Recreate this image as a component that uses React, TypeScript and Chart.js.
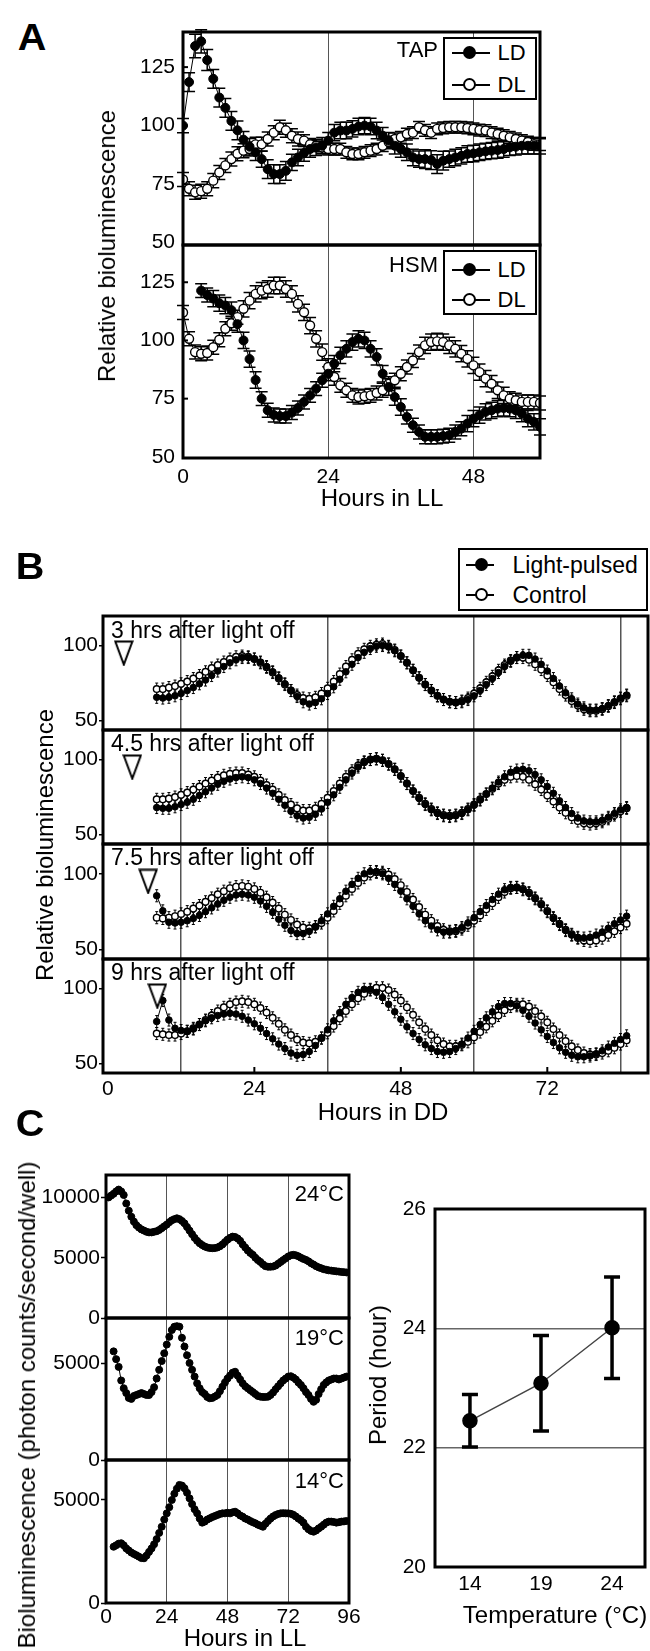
import React, { useEffect, useRef } from "react";
import { Chart, registerables } from "chart.js";

Chart.register(...registerables);

const FONT = "'Liberation Sans', Arial, Helvetica, sans-serif";
const TICK_PX = 21;

/* ================= Panel A : relative bioluminescence, hours in LL ================= */
const A_X_TICKS = [0, 24, 48];
const A_X_GRID = [24, 48];
const A_Y_TICKS = [50, 75, 100, 125];
const A_Y_INNER = [75, 100, 125];

const TAP_LD_START = 0;
const TAP_LD = [
  100, 118.6, 134, 136, 128, 120, 112, 107.6, 102, 98,
  94, 91, 88.6, 85.7, 81.4, 79.3, 79.3, 80.7, 84.3, 86.4,
  88.3, 90, 90.7, 91.4, 93.6, 97, 97.9, 97.9, 98.6, 99.6,
  100, 99.6, 97.9, 95.7, 93.6, 91.4, 90, 88.6, 86.4, 85.7,
  85.7, 85.3, 83.6, 85, 85.7, 86.4, 87.1, 87.9, 88.1, 88.6,
  89, 89.3, 89.6, 90, 90.7, 91, 91.4, 91.4, 91.4, 91.4,
];
const TAP_LD_ERR = [
  3, 4, 5, 5, 4.5, 4, 4, 4, 4, 4,
  3.5, 3.5, 3.5, 3.5, 4, 4, 4, 4, 3.5, 3.5,
  3.5, 3.5, 3.5, 3.5, 3.5, 3.5, 3.5, 3.5, 3.5, 3.5,
  3.5, 3.5, 3.5, 3.5, 3.5, 3.5, 3.5, 3.5, 3.5, 3.5,
  4, 4, 4, 4, 3.5, 3.5, 3.5, 3.5, 3.5, 3.5,
  3.5, 3.5, 3.5, 3.5, 3.5, 3.5, 3.5, 3.5, 3.5, 3.5,
];
const TAP_DL_START = 0;
const TAP_DL = [
  77, 73, 71.5, 72, 73, 76.5, 80, 83, 85.7, 88,
  89.3, 90, 92, 92, 94.3, 97, 99.3, 98, 95.7, 94.3,
  93.6, 92, 91.4, 90.7, 90, 90, 90, 88.6, 87.9, 87.9,
  88.6, 89.3, 90, 91.4, 93, 94.3, 95, 96.4, 97, 99.3,
  98, 97, 98.6, 99, 99.3, 99.3, 99.3, 99, 98.6, 98.1,
  97.9, 97, 96.4, 95.7, 95, 94.3, 93.6, 93, 92, 91.9,
];
const TAP_DL_ERR = [
  3, 3, 3, 3, 3, 3, 3, 3, 3, 3,
  3, 3, 3, 3, 3, 3, 3, 3, 3, 3,
  2.5, 2.5, 2.5, 2.5, 2.5, 2.5, 2.5, 2.5, 2.5, 2.5,
  2.5, 2.5, 2.5, 2.5, 2.5, 2.5, 2.5, 2.5, 2.5, 2.5,
  2.5, 2.5, 2.5, 2.5, 2.5, 2.5, 2.5, 2.5, 2.5, 2.5,
  2.5, 2.5, 2.5, 2.5, 2.5, 2.5, 2.5, 2.5, 2.5, 2.5,
];

const HSM_LD_START = 3;
const HSM_LD = [
  121.4, 119.5, 118, 116, 115, 113, 107, 100, 92, 83,
  75, 70, 68, 67.5, 67.5, 69, 71, 73.6, 76.4, 79.3,
  82.9, 85.7, 90, 93.6, 96.4, 99.3, 100.7, 100, 96.4, 92.9,
  85.7, 80, 75.7, 71.4, 67.1, 63.6, 60.7, 58.6, 58.6, 58.6,
  58.9, 59.3, 60.7, 62.1, 64.3, 66.4, 67.9, 69.3, 70, 70.7,
  71, 70.7, 70, 68.6, 66.4, 65, 62.9,
];
const HSM_LD_ERR = [
  3, 3, 3.5, 3.5, 3.5, 3.5, 3.5, 3.5, 3.5, 3.5,
  3, 3, 3, 3, 3, 3, 3, 3, 3, 3,
  3, 3, 3.5, 3.5, 3.5, 3.5, 3.5, 3.5, 3.5, 3.5,
  3.5, 3.5, 3.5, 3.5, 3, 3, 3, 3, 3, 3,
  3, 3, 3, 3, 3.5, 3.5, 3.5, 3.5, 3.5, 3.5,
  3.5, 3.5, 3.5, 3.5, 3.5, 3.5, 3.5,
];
const HSM_DL_START = 0;
const HSM_DL = [
  112, 100.7, 95, 94.3, 94.6, 97.1, 100.3, 105, 107.4, 110,
  113.6, 117.1, 120, 121.4, 122.1, 123.6, 123.6, 122.1, 120, 115.7,
  112.1, 106.4, 100.7, 95, 88.6, 84.3, 80.7, 78.6, 76.4, 75.7,
  76, 76.4, 77.4, 78.6, 81.4, 82.9, 85.7, 88.6, 91.4, 95,
  97.9, 99.3, 99.6, 99.3, 97.9, 96.4, 94.3, 92.1, 89.3, 86.4,
  83.6, 81.4, 78.6, 76.4, 75, 74.3, 73.6, 73.6, 73.6, 73.1,
];
const HSM_DL_ERR = [
  3, 3, 3, 3, 3, 3, 3, 3, 3, 3,
  3.5, 3.5, 3.5, 3.5, 3.5, 3.5, 3.5, 3.5, 3.5, 3.5,
  3.5, 3.5, 3.5, 3.5, 3.5, 3.5, 3, 3, 3, 3,
  3, 3, 3, 3, 3, 3, 3, 3, 3, 3,
  3.5, 3.5, 3.5, 3.5, 3.5, 3.5, 3.5, 3.5, 3.5, 3.5,
  3.5, 3.5, 3.5, 3.5, 3, 3, 3, 3, 3, 3,
];

/* ================= Panel B : light pulses, hours in DD ================= */
const B_X_TICKS = [0, 12, 24, 36, 48, 60, 72, 84];
const B_X_LABELS = [0, 24, 48, 72];
const B_X_GRID = [12, 36, 60, 84];
const B_X_INNER = [24, 48, 72];
const B_Y_TICKS = [50, 100];
const B_TITLES = [
  "3 hrs after light off",
  "4.5 hrs after light off",
  "7.5 hrs after light off",
  "9 hrs after light off",
];
const B_PULSE_X = [2.6, 4.0, 6.6, 8.1];
const B_PULSE_Y = [95, 95, 95, 95];
const B_START = 8;
const B_ERR = [4, 4, 4, 4];

const B_CT_1 = [
  71, 71, 72, 73, 74.5, 76, 78, 80, 82.5, 85,
  87, 89, 91, 92.5, 93, 92.5, 91, 88.5, 85.5, 82,
  78, 74, 70, 67, 65, 64.5, 65.5, 68, 71.5, 76,
  81, 86, 90.5, 94.5, 97.5, 99.5, 100.5, 101, 99.5, 97,
  93, 88.5, 83.5, 78.5, 74, 70, 66.5, 64, 62.5, 62,
  63, 65, 68, 71.5, 75.5, 79.5, 83.5, 87, 90, 92,
  92, 90.5, 87.5, 84, 80, 75.5, 71, 67, 63, 60,
  57.5, 56.5, 56.5, 57.5, 59.5, 62, 64.5, 66.5,
];
const B_LP_1 = [
  65.5, 65, 65.5, 66.5, 68, 70, 72, 74.5, 77, 80,
  83, 86, 88.5, 90.5, 92, 92, 91, 89, 86, 82.5,
  78.5, 74.5, 70, 66, 62.5, 61, 62, 64.5, 68, 72.5,
  77.5, 82.5, 87.5, 92, 95.5, 98, 99.5, 100, 99, 96.5,
  93, 88.5, 83.5, 78.5, 74, 70, 66.5, 64, 62.5, 62,
  62.5, 64, 66.5, 70, 74, 78, 82, 86, 89.5, 92,
  93.5, 93.5, 91, 87.5, 83, 78, 73, 68.5, 64.5, 61,
  58.5, 57, 57, 58, 60, 62.5, 65, 67,
];
const B_CT_2 = [
  73.5, 73.5, 74, 75, 76.5, 78, 80, 82, 84, 86,
  88, 89.5, 90.5, 91, 91, 90, 88.5, 86, 83, 80,
  76.5, 73, 70, 67.5, 66, 66, 67.5, 70.5, 74.5, 79,
  84, 88.5, 92.5, 96, 98.5, 100, 100.5, 99.5, 97, 93.5,
  89, 84, 79, 74.5, 70.5, 67, 64.5, 63, 62.5, 63,
  64.5, 67, 70, 73.5, 77, 80.5, 84, 86.5, 88.5, 89,
  88.5, 86.5, 83.5, 80, 76, 72, 68, 64.5, 61.5, 59,
  57.5, 57, 57.5, 58.5, 60.5, 63, 65.5, 67.5,
];
const B_LP_2 = [
  68, 67.5, 67.5, 68.5, 70, 71.5, 73.5, 76, 78.5, 81,
  83.5, 85.5, 87, 88, 88.5, 88, 86.5, 84, 81, 77.5,
  73.5, 69.5, 65.5, 62.5, 61, 61.5, 63.5, 67, 71.5, 76.5,
  81.5, 86.5, 91, 95, 98, 100, 100.5, 99.5, 97, 93.5,
  89, 84, 79, 74, 70, 66.5, 64, 62.5, 62, 62.5,
  64, 66.5, 69.5, 73, 77, 81, 85, 88.5, 91.5, 93,
  93.5, 92.5, 90, 86.5, 82, 77.5, 72.5, 68, 64, 61,
  59, 58.5, 58.5, 59.5, 61.5, 64, 66.5, 68,
];
const B_CT_3 = [
  71, 70.5, 71, 72, 73.5, 75, 77, 79, 81.5, 84,
  86.5, 88.5, 90.5, 91.5, 92, 91.5, 90, 87.5, 84.5, 81,
  77, 73, 69.5, 66.5, 64.5, 64, 65, 67.5, 71, 75.5,
  80.5, 85.5, 90, 94, 97.5, 100, 101, 101, 99.5, 96.5,
  92.5, 88, 83, 78, 73, 69, 65.5, 63, 62, 62,
  63.5, 66, 69, 72.5, 76.5, 80.5, 84.5, 88, 90.5, 91,
  90, 87.5, 84, 80, 75.5, 71, 67, 63, 60, 57.5,
  56, 55.5, 56, 57.5, 59.5, 62, 64.5, 67,
];
const B_LP_3 = [
  85.5, 75.5, 68, 67.5, 68, 69, 70.5, 72.5, 75, 77.5,
  80, 82.5, 84.5, 86, 86.5, 86, 84.5, 82, 78.5, 74.5,
  70, 66, 62.5, 60.5, 60.5, 62, 65, 69, 73.5, 78.5,
  83.5, 88.5, 93, 97, 100, 101.5, 101.5, 100, 97, 93,
  88.5, 83.5, 78.5, 73.5, 69, 65.5, 63, 61.5, 61.5, 62.5,
  64.5, 67.5, 71, 75, 79, 83, 86.5, 89.5, 91, 91,
  89.5, 87, 83.5, 79.5, 75, 70.5, 66.5, 62.5, 59.5, 58,
  57.5, 58, 59.5, 61.5, 64, 67, 69.5, 72,
];
const B_CT_4 = [
  70, 69.5, 69, 69, 70, 71.5, 73.5, 76, 79, 82,
  85, 87.5, 89.5, 91, 91.5, 91, 89.5, 87, 84, 80.5,
  76.5, 72.5, 69, 66, 64, 63.5, 64.5, 67, 70.5, 75,
  80, 85, 89.5, 93.5, 96.5, 99, 100.5, 100.5, 99, 96,
  92, 87.5, 82.5, 77.5, 73, 69, 65.5, 63, 61.5, 61.5,
  62.5, 64.5, 67.5, 71, 74.5, 78.5, 82, 85.5, 88, 89.5,
  89.5, 88, 85, 81.5, 77.5, 73, 69, 65, 61.5, 59,
  57, 56, 56, 57, 58.5, 60.5, 63, 65.5,
];
const B_LP_4 = [
  78, 92, 79, 73.5, 72, 71.5, 73, 76, 78.5, 80.5,
  82, 83, 83.5, 83, 81.5, 79, 76.5, 73.5, 70, 66.5,
  63, 60, 57, 55.5, 56, 58, 62, 67, 72.5, 78.5,
  84, 89.5, 94, 97.5, 99.5, 99.5, 97.5, 94, 89.5, 84.5,
  79.5, 74.5, 70, 66, 62.5, 60, 58, 57.5, 58, 60,
  63, 67, 71.5, 76, 80.5, 84.5, 88, 90, 90, 88.5,
  85.5, 81.5, 77, 72.5, 68, 64, 60.5, 57.5, 55.5, 54.5,
  54.5, 55, 56.5, 58.5, 61, 63.5, 66, 68.5,
];
const B_LP = [B_LP_1, B_LP_2, B_LP_3, B_LP_4];
const B_CT = [B_CT_1, B_CT_2, B_CT_3, B_CT_4];

/* ================= Panel C : temperature ================= */
const C_X_TICKS = [0, 24, 48, 72, 96];
const C_X_GRID = [24, 48, 72];
const C_LABELS = ["24°C", "19°C", "14°C"];

const C24_START = 1;
const C24 = [
  10000, 10150, 10300, 10500, 10650, 10500, 10200, 9500, 8900, 8400,
  8000, 7700, 7500, 7350, 7250, 7150, 7100, 7100, 7150, 7200,
  7300, 7450, 7600, 7750, 7950, 8100, 8200, 8270, 8200, 8050,
  7850, 7550, 7250, 6950, 6650, 6400, 6200, 6050, 5930, 5850,
  5800, 5790, 5800, 5850, 5950, 6100, 6300, 6500, 6650, 6750,
  6720, 6600, 6400, 6100, 5850, 5600, 5400, 5240, 5000, 4800,
  4650, 4450, 4300, 4250, 4250, 4270, 4350, 4500, 4650, 4800,
  4950, 5100, 5200, 5240, 5200, 5120, 5000, 4900, 4820, 4700,
  4550, 4430, 4300, 4200, 4130, 4050, 4000, 3950, 3930, 3900,
  3870, 3850, 3820, 3800, 3780,
];
const C19_START = 3;
const C19 = [
  5600, 5200, 4800, 4100, 3700, 3450, 3200, 3150, 3300, 3350,
  3400, 3450, 3400, 3350, 3350, 3500, 3750, 4200, 4650, 5100,
  5500, 5950, 6350, 6700, 6870, 6900, 6870, 6300, 5850, 5400,
  5000, 4650, 4300, 3950, 3700, 3500, 3400, 3250, 3180, 3200,
  3270, 3350, 3550, 3780, 4000, 4200, 4350, 4500, 4550, 4350,
  4150, 3950, 3800, 3700, 3600, 3500, 3400, 3300, 3265, 3250,
  3250, 3265, 3350, 3480, 3650, 3800, 3950, 4100, 4200, 4300,
  4320, 4250, 4150, 4000, 3870, 3700, 3500, 3350, 3150, 3000,
  3100, 3400, 3650, 3870, 4000, 4100, 4150, 4200, 4200, 4150,
  4200, 4250, 4300,
];
const C14_START = 3;
const C14 = [
  2730, 2800, 2880, 2900, 2800, 2650, 2550, 2450, 2380, 2320,
  2250, 2180, 2170, 2300, 2480, 2650, 2850, 3100, 3400, 3700,
  4050, 4350, 4650, 5000, 5300, 5550, 5730, 5700, 5570, 5350,
  5080, 4800, 4550, 4350, 4100, 3900, 3950, 4050, 4110, 4170,
  4220, 4270, 4320, 4350, 4350, 4380, 4350, 4400, 4430, 4350,
  4250, 4190, 4100, 4050, 3980, 3920, 3870, 3800, 3750, 3700,
  3850, 3980, 4100, 4200, 4270, 4320, 4350, 4360, 4350, 4350,
  4330, 4280, 4200, 4100, 4020, 3900, 3700, 3580, 3500, 3460,
  3520, 3620, 3700, 3800, 3900, 3950, 3950, 3930, 3900, 3920,
  3950, 3960, 3980,
];
const C_SERIES = [C24, C19, C14];
const C_STARTS = [C24_START, C19_START, C14_START];
const C_Y_TICKS = [[0, 5000, 10000], [0, 5000], [0, 5000]];

const TEMPS = [14, 19, 24];
const PERIODS = [22.45, 23.08, 24.01];
const PERIOD_SD = [0.44, 0.8, 0.85];
const PERIOD_Y_TICKS = [20, 22, 24, 26];
const PERIOD_Y_GRID = [22, 24];

/* ================= chart plumbing ================= */
const PAD = { l: 10, r: 30, t: 30, b: 30 };

type AxisSpec = {
  min: number;
  max: number;
  ticks: number[];
  labels?: number[];
  grid?: number[];
  show: boolean;
  pad: number;
  size: number;
  tickLen?: number;
};
type Spec = {
  l: number;
  t: number;
  r: number;
  b: number;
  x: AxisSpec;
  y: AxisSpec;
  gridColor: string;
  gridWidth: number;
  innerX?: number[];
  innerY?: number[];
  datasets: () => any[];
};

function series(start: number, vals: number[], filled: boolean, r: number, extra: any = {}) {
  return {
    data: vals.map((v, i) => ({ x: start + i, y: v })),
    borderColor: "#000",
    borderWidth: 1,
    pointRadius: r,
    pointHoverRadius: r,
    pointBackgroundColor: filled ? "#000" : "#fff",
    pointBorderColor: "#000",
    pointBorderWidth: filled ? 1 : 1.4,
    tension: 0,
    fill: false,
    ...extra,
  };
}

function triangleImage() {
  const c = document.createElement("canvas");
  c.width = 20;
  c.height = 26;
  const g = c.getContext("2d")!;
  g.fillStyle = "#fff";
  g.strokeStyle = "#000";
  g.lineWidth = 2;
  g.beginPath();
  g.moveTo(1.5, 1.5);
  g.lineTo(18.5, 1.5);
  g.lineTo(10, 24.5);
  g.closePath();
  g.fill();
  g.stroke();
  return c;
}

function makeDecor(spec: Spec) {
  return {
    id: "decor",
    beforeDatasetsDraw(chart: any) {
      const ctx = chart.ctx;
      chart.data.datasets.forEach((ds: any, i: number) => {
        if (ds.errors == null) return;
        const meta = chart.getDatasetMeta(i);
        const ys = chart.scales[meta.yAxisID];
        ctx.save();
        ctx.strokeStyle = "#000";
        ctx.lineWidth = ds.errWidth || 1;
        meta.data.forEach((el: any, j: number) => {
          const e = Array.isArray(ds.errors) ? ds.errors[j] : ds.errors;
          if (!e) return;
          const v = ds.data[j].y;
          const x = el.x;
          const y1 = ys.getPixelForValue(v + e);
          const y2 = ys.getPixelForValue(v - e);
          ctx.beginPath();
          ctx.moveTo(x, y1);
          ctx.lineTo(x, y2);
          const c = ds.errCap || 0;
          if (c) {
            ctx.moveTo(x - c, y1);
            ctx.lineTo(x + c, y1);
            ctx.moveTo(x - c, y2);
            ctx.lineTo(x + c, y2);
          }
          ctx.stroke();
        });
        ctx.restore();
      });
    },
    afterDraw(chart: any) {
      const { ctx, chartArea: a, scales } = chart;
      ctx.save();
      ctx.strokeStyle = "#000";
      ctx.lineWidth = 2;
      (spec.innerY || []).forEach((v) => {
        const y = scales.y.getPixelForValue(v);
        ctx.beginPath();
        ctx.moveTo(a.left, y);
        ctx.lineTo(a.left + 5, y);
        ctx.stroke();
      });
      (spec.innerX || []).forEach((v) => {
        const x = scales.x.getPixelForValue(v);
        ctx.beginPath();
        ctx.moveTo(x, a.bottom);
        ctx.lineTo(x, a.bottom - 6);
        ctx.stroke();
      });
      ctx.lineWidth = 3;
      ctx.strokeRect(a.left, a.top, a.right - a.left, a.bottom - a.top);
      ctx.restore();
    },
  };
}

function axis(a: AxisSpec, horizontal: boolean, gridColor: string, gridWidth: number) {
  const labels = a.labels ?? a.ticks;
  const grid = a.grid ?? [];
  return {
    type: "linear",
    min: a.min,
    max: a.max,
    afterBuildTicks: (s: any) => {
      s.ticks = a.ticks.map((v) => ({ value: v }));
    },
    afterFit: (s: any) => {
      if (horizontal) s.height = a.size;
      else s.width = a.size;
    },
    ticks: {
      display: a.show,
      padding: a.pad,
      autoSkip: false,
      maxRotation: 0,
      minRotation: 0,
      color: "#000",
      font: { family: FONT, size: TICK_PX },
      callback: (v: number) => (labels.includes(v) ? String(v) : ""),
    },
    grid: {
      display: true,
      drawOnChartArea: grid.length > 0,
      drawTicks: !!a.tickLen,
      tickLength: a.tickLen || 0,
      tickColor: "#000",
      tickWidth: 1.5,
      color: (c: any) => (c.tick && grid.includes(c.tick.value) ? gridColor : "rgba(0,0,0,0)"),
      lineWidth: gridWidth,
    },
    border: { display: false },
  };
}

function buildConfig(spec: Spec) {
  return {
    type: "line",
    data: { datasets: spec.datasets() },
    options: {
      responsive: false,
      animation: false,
      devicePixelRatio: 1,
      events: [],
      layout: { padding: { left: PAD.l, right: PAD.r, top: PAD.t, bottom: PAD.b } },
      plugins: { legend: { display: false }, tooltip: { enabled: false } },
      scales: {
        x: axis(spec.x, true, spec.gridColor, spec.gridWidth),
        y: axis(spec.y, false, spec.gridColor, spec.gridWidth),
      },
    },
    plugins: [makeDecor(spec)],
  };
}

function PlotCanvas({ spec }: { spec: Spec }) {
  const ref = useRef<HTMLCanvasElement | null>(null);
  const w = Math.round(PAD.l + spec.y.size + (spec.r - spec.l) + PAD.r);
  const h = Math.round(PAD.t + (spec.b - spec.t) + spec.x.size + PAD.b);
  const left = spec.l - spec.y.size - PAD.l;
  const top = spec.t - PAD.t;
  useEffect(() => {
    if (!ref.current) return;
    const chart = new Chart(ref.current, buildConfig(spec) as any);
    return () => chart.destroy();
  }, [spec]);
  return (
    <canvas
      ref={ref}
      width={w}
      height={h}
      style={{ position: "absolute", left, top, width: w, height: h }}
    />
  );
}

/* ================= chart specs ================= */
const SPECS: Spec[] = [];

// Panel A, TAP
SPECS.push({
  l: 183, t: 32, r: 540, b: 245,
  x: { min: 0, max: 59, ticks: A_X_TICKS, grid: A_X_GRID, show: false, pad: 0, size: 0 },
  y: { min: 49, max: 140, ticks: A_Y_TICKS, show: true, pad: 8, size: 60 },
  gridColor: "#555", gridWidth: 1,
  innerY: A_Y_INNER,
  datasets: () => [
    series(TAP_LD_START, TAP_LD, true, 4.5, { errors: TAP_LD_ERR, errCap: 6, errWidth: 1.5 }),
    series(TAP_DL_START, TAP_DL, false, 4.5, { errors: TAP_DL_ERR, errCap: 6, errWidth: 1.5 }),
  ],
});
// Panel A, HSM
SPECS.push({
  l: 183, t: 245, r: 540, b: 458,
  x: { min: 0, max: 59, ticks: A_X_TICKS, grid: A_X_GRID, show: true, pad: 7, size: 45 },
  y: { min: 49.5, max: 141, ticks: A_Y_TICKS, show: true, pad: 8, size: 60 },
  gridColor: "#555", gridWidth: 1,
  innerY: A_Y_INNER,
  datasets: () => [
    series(HSM_LD_START, HSM_LD, true, 4.5, { errors: HSM_LD_ERR, errCap: 6, errWidth: 1.5 }),
    series(HSM_DL_START, HSM_DL, false, 4.5, { errors: HSM_DL_ERR, errCap: 6, errWidth: 1.5 }),
  ],
});
// Panel B
const B_EDGES = [616, 730, 844, 959, 1073];
for (let i = 0; i < 4; i++) {
  const last = i === 3;
  SPECS.push({
    l: 103, t: B_EDGES[i], r: 648, b: B_EDGES[i + 1],
    x: {
      min: -0.8, max: 88.5, ticks: B_X_TICKS, labels: B_X_LABELS, grid: B_X_GRID,
      show: last, pad: 4, size: last ? 40 : 0,
    },
    y: { min: 43.7, max: 119.7, ticks: B_Y_TICKS, show: true, pad: 1, size: 55, tickLen: 4 },
    gridColor: "#555", gridWidth: 1.5,
    innerX: last ? B_X_INNER : [],
    datasets: () => [
      {
        data: [{ x: B_PULSE_X[i], y: B_PULSE_Y[i] }],
        showLine: false,
        pointStyle: triangleImage(),
        pointRadius: 10,
      },
      series(B_START, B_LP[i], true, 3.3, { errors: B_ERR[i], errCap: 1.5, errWidth: 1 }),
      series(B_START, B_CT[i], false, 3.3, { errors: B_ERR[i], errCap: 1.5, errWidth: 1 }),
    ],
  });
}
// Panel C, left
const C_EDGES = [1175, 1318, 1460, 1603];
const C_YMAX = [11860, 7320, 6940];
for (let i = 0; i < 3; i++) {
  const last = i === 2;
  SPECS.push({
    l: 106, t: C_EDGES[i], r: 349, b: C_EDGES[i + 1],
    x: { min: 0, max: 96, ticks: C_X_TICKS, grid: C_X_GRID, show: last, pad: 2, size: last ? 40 : 0 },
    y: { min: 0, max: C_YMAX[i], ticks: C_Y_TICKS[i], show: true, pad: 1, size: 65, tickLen: 5 },
    gridColor: "#555", gridWidth: 1,
    datasets: () => [series(C_STARTS[i], C_SERIES[i], true, 3.5)],
  });
}
// Panel C, right
SPECS.push({
  l: 435, t: 1209, r: 645, b: 1567,
  x: { min: 11.54, max: 26.32, ticks: TEMPS, show: true, pad: 5, size: 40 },
  y: { min: 20, max: 26, ticks: PERIOD_Y_TICKS, grid: PERIOD_Y_GRID, show: true, pad: 9, size: 50 },
  gridColor: "#666", gridWidth: 1.5,
  datasets: () => [
    {
      data: TEMPS.map((t, i) => ({ x: t, y: PERIODS[i] })),
      borderColor: "#444",
      borderWidth: 1.5,
      pointRadius: 7,
      pointBackgroundColor: "#000",
      pointBorderColor: "#000",
      tension: 0,
      fill: false,
      errors: PERIOD_SD,
      errCap: 8,
      errWidth: 3.5,
    },
  ],
});

/* ================= HTML text ================= */
function Txt(props: {
  x: number; y: number; text: string; size?: number; align?: "c" | "l" | "r";
  rot?: boolean; bold?: boolean; sx?: number;
}) {
  const { x, y, text, size = 24, align = "c", rot = false, bold = false, sx = 1 } = props;
  const tx = align === "c" ? "-50%" : align === "r" ? "-100%" : "0%";
  let transform = `translate(${tx}, -50%)`;
  if (rot) transform += " rotate(-90deg)";
  if (sx !== 1) transform += ` scaleX(${sx})`;
  return (
    <div
      style={{
        position: "absolute", left: x, top: y, transform,
        fontFamily: FONT, fontSize: size, fontWeight: bold ? 700 : 400,
        lineHeight: 1, whiteSpace: "nowrap", color: "#000",
      }}
    >
      {text}
    </div>
  );
}

type LegendRow = { label: string; filled: boolean; cy: number };
function Legend(props: {
  x: number; y: number; w: number; h: number; rows: LegendRow[];
  lx1: number; lx2: number; cx: number; tx: number; size: number;
}) {
  const { x, y, w, h, rows, lx1, lx2, cx, tx, size } = props;
  const bw = 2.5;
  const d = 13;
  return (
    <div
      style={{
        position: "absolute", left: x, top: y, width: w, height: h,
        border: `${bw}px solid #000`, boxSizing: "border-box", background: "#fff",
      }}
    >
      {rows.map((r) => (
        <React.Fragment key={r.label}>
          <div
            style={{
              position: "absolute", left: lx1 - bw, top: r.cy - 1 - bw,
              width: lx2 - lx1, height: 2, background: "#000",
            }}
          />
          <div
            style={{
              position: "absolute", left: cx - d / 2 - bw, top: r.cy - d / 2 - bw,
              width: d, height: d, borderRadius: "50%", boxSizing: "border-box",
              border: "2px solid #000", background: r.filled ? "#000" : "#fff",
            }}
          />
          <div
            style={{
              position: "absolute", left: tx - bw, top: r.cy - bw,
              transform: "translateY(-50%)", fontFamily: FONT, fontSize: size,
              lineHeight: 1, whiteSpace: "nowrap",
            }}
          >
            {r.label}
          </div>
        </React.Fragment>
      ))}
    </div>
  );
}

const B_TITLE_Y = [630, 743, 857, 972];
const C_LABEL_Y = [1194, 1338, 1481];

export default function App() {
  return (
    <div
      style={{
        position: "absolute", left: 0, top: 0, width: 650, height: 1651,
        overflow: "hidden", background: "#fff",
      }}
    >
      {SPECS.map((s, i) => (
        <PlotCanvas key={i} spec={s} />
      ))}

      {/* Panel A */}
      <Txt x={32} y={38} text="A" size={36} bold sx={1.1} />
      <Txt x={438} y={50} text="TAP" size={22} align="r" />
      <Txt x={438} y={265} text="HSM" size={22} align="r" />
      <Legend
        x={443} y={37} w={94} h={63} lx1={9} lx2={47} cx={27} tx={55} size={22}
        rows={[{ label: "LD", filled: true, cy: 16 }, { label: "DL", filled: false, cy: 48 }]}
      />
      <Legend
        x={443} y={250} w={94} h={65} lx1={9} lx2={47} cx={27} tx={55} size={22}
        rows={[{ label: "LD", filled: true, cy: 20 }, { label: "DL", filled: false, cy: 50 }]}
      />
      <Txt x={107} y={246} text="Relative bioluminescence" rot />
      <Txt x={382} y={498} text="Hours in LL" />

      {/* Panel B */}
      <Txt x={30} y={567} text="B" size={36} bold sx={1.1} />
      <Legend
        x={458} y={548} w={190} h={63} lx1={8} lx2={36} cx={24} tx={55} size={23}
        rows={[
          { label: "Light-pulsed", filled: true, cy: 17 },
          { label: "Control", filled: false, cy: 47 },
        ]}
      />
      {B_TITLES.map((t, i) => (
        <Txt key={t} x={111} y={B_TITLE_Y[i]} text={t} size={23} align="l" />
      ))}
      <Txt x={45} y={845} text="Relative bioluminescence" rot />
      <Txt x={383} y={1112} text="Hours in DD" />

      {/* Panel C */}
      <Txt x={30} y={1124} text="C" size={36} bold sx={1.1} />
      {C_LABELS.map((t, i) => (
        <Txt key={t} x={344} y={C_LABEL_Y[i]} text={t} size={22} align="r" />
      ))}
      <Txt x={27} y={1405} text="Bioluminescence (photon counts/second/well)" rot />
      <Txt x={245} y={1638} text="Hours in LL" />
      <Txt x={378} y={1375} text="Period (hour)" rot />
      <Txt x={555} y={1615} text="Temperature (°C)" />
    </div>
  );
}
